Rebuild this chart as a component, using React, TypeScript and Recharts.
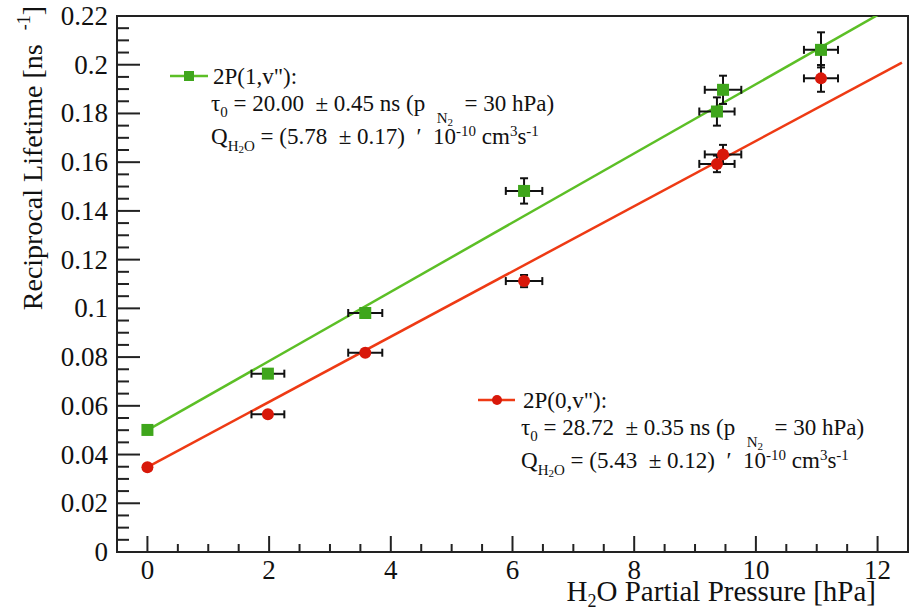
import React from "react";
import {
  ComposedChart,
  XAxis,
  YAxis,
  Scatter,
  Line,
  ErrorBar,
  ReferenceArea,
} from "recharts";

// measurements, H2O partial pressure in hPa
const pressure = [0, 1.98, 3.58, 6.19, 9.36, 9.46, 11.07];
const pressureErr = [0, 0.27, 0.28, 0.3, 0.29, 0.3, 0.28];

// 2P(1,v") reciprocal lifetime in ns^-1
const rate1 = [0.0501, 0.0732, 0.0981, 0.1482, 0.1808, 0.1897, 0.2061];
const rate1Err = [0, 0.001, 0.002, 0.0052, 0.0058, 0.0058, 0.0072];

// 2P(0,v") reciprocal lifetime in ns^-1
const rate0 = [0.0348, 0.0565, 0.0818, 0.1112, 0.1593, 0.1632, 0.1944];
const rate0Err = [0, 0.001, 0.0012, 0.0025, 0.0034, 0.0039, 0.0055];

// linear fits (intercept = 1/tau0)
const fit1 = { intercept: 0.05, slope: 0.0142 };
const fit0 = { intercept: 0.03482, slope: 0.01339 };
const fitRange = [0, 12.4];

const xMajor = [0, 2, 4, 6, 8, 10, 12];
const xTicks = Array.from({ length: 25 }, (_, i) => i * 0.5);
const yTicks = Array.from({ length: 45 }, (_, i) => +(i * 0.005).toFixed(3));

const FONT = '"Liberation Serif"';
const GREEN_LINE = "#5cbf26";
const GREEN_MARK = "#3fa61c";
const RED_LINE = "#ee3a14";
const RED_MARK = "#d8180a";
const AXIS = "#222";

const series1 = pressure.map((x, i) => ({ x, y: rate1[i], ex: pressureErr[i], ey: rate1Err[i] }));
const series0 = pressure.map((x, i) => ({ x, y: rate0[i], ex: pressureErr[i], ey: rate0Err[i] }));
const fitLine = (f: { intercept: number; slope: number }) =>
  fitRange.map((x) => ({ x, y: f.intercept + f.slope * x }));

const XTick = (props: any) => {
  const { x, y, payload } = props;
  const major = xMajor.includes(payload.value);
  return (
    <g>
      <line x1={x} x2={x} y1={y} y2={y - (major ? 16 : 8)} stroke={AXIS} strokeWidth={2} />
      {major && (
        <text x={x} y={y + 27} textAnchor="middle" style={{ fontFamily: FONT }} fontSize={27} fill="#111">
          {payload.value}
        </text>
      )}
    </g>
  );
};

const YTick = (props: any) => {
  const { x, y, payload } = props;
  const major = Math.round(payload.value * 1000) % 20 === 0;
  return (
    <g>
      <line x1={x} x2={x + (major ? 23 : 12)} y1={y} y2={y} stroke={AXIS} strokeWidth={2} />
      {major && (
        <text x={x - 9} y={y + 9} textAnchor="end" style={{ fontFamily: FONT }} fontSize={27} fill="#111">
          {String(Number(payload.value.toFixed(2)))}
        </text>
      )}
    </g>
  );
};

const YTitle = () => (
  <text
    transform="translate(42, 6) rotate(-90)"
    textAnchor="end"
    style={{ fontFamily: FONT }}
    fontSize={28}
    fill="#111"
  >
    Reciprocal Lifetime [ns
    <tspan dx={14} dy={-12} fontSize={18}>-1</tspan>
    <tspan dy={12}>]</tspan>
  </text>
);

const XTitle = () => (
  <text x={876} y={601} textAnchor="end" style={{ fontFamily: FONT }} fontSize={29} fill="#111">
    H<tspan dy={6} fontSize={18}>2</tspan>
    <tspan dy={-6}>O Partial Pressure [hPa]</tspan>
  </text>
);

const Square = (p: any) => (
  <rect x={p.cx - 6} y={p.cy - 6} width={12} height={12} fill={GREEN_MARK} />
);
const Dot = (p: any) => <circle cx={p.cx} cy={p.cy} r={6} fill={RED_MARK} />;

const Shift = ({ children, size, dy }: any) => (
  <span style={{ fontSize: size, position: "relative", top: dy }}>{children}</span>
);

const textStyle: React.CSSProperties = {
  position: "absolute",
  fontFamily: FONT,
  fontSize: 23,
  lineHeight: "23px",
  whiteSpace: "pre",
  color: "#111",
};

const LegendBlock = ({ left, top, title, tau, tauErr, q, qErr }: any) => (
  <>
    <div style={{ ...textStyle, left, top }}>{title}</div>
    <div style={{ ...textStyle, left: left - 2, top: top + 27 }}>
      {"τ"}
      <Shift size={15} dy={6}>0</Shift>
      {` = ${tau}  ± ${tauErr} ns (p  `}
      <Shift size={15} dy={12}>
        N<Shift size={11} dy={3}>2</Shift>
      </Shift>
      {"  = 30 hPa)"}
    </div>
    <div style={{ ...textStyle, left: left - 2, top: top + 60 }}>
      {"Q"}
      <Shift size={15} dy={7}>
        H<Shift size={11} dy={2}>2</Shift>O
      </Shift>
      {` = (${q}  ± ${qErr})  ′  10`}
      <Shift size={15} dy={-8}>-10</Shift>
      {" cm"}
      <Shift size={15} dy={-8}>3</Shift>
      {"s"}
      <Shift size={15} dy={-8}>-1</Shift>
    </div>
  </>
);

export default function App() {
  return (
    <div style={{ position: "absolute", left: 0, top: 0, width: 911, height: 614, background: "#fff", fontFamily: FONT }}>
      <ComposedChart width={911} height={614} margin={{ top: 16, right: 3, bottom: 0, left: 0 }}>
        <XAxis
          type="number"
          dataKey="x"
          domain={[-0.5, 12.5]}
          ticks={xTicks}
          interval={0}
          tick={<XTick />}
          tickLine={false}
          tickSize={0}
          tickMargin={0}
          height={62}
          axisLine={{ stroke: AXIS, strokeWidth: 2 }}
          label={<XTitle />}
        />
        <YAxis
          type="number"
          dataKey="y"
          domain={[0, 0.22]}
          allowDataOverflow
          ticks={yTicks}
          interval={0}
          tick={<YTick />}
          tickLine={false}
          tickSize={0}
          tickMargin={0}
          width={117}
          axisLine={{ stroke: AXIS, strokeWidth: 2 }}
          label={<YTitle />}
        />
        <ReferenceArea
          x1={-0.5}
          x2={12.5}
          y1={0}
          y2={0.22}
          fill="none"
          fillOpacity={0}
          stroke={AXIS}
          strokeWidth={2}
          strokeOpacity={1}
        />
        <Line
          data={fitLine(fit1)}
          dataKey="y"
          type="linear"
          stroke={GREEN_LINE}
          strokeWidth={2.5}
          dot={false}
          activeDot={false}
          isAnimationActive={false}
        />
        <Line
          data={fitLine(fit0)}
          dataKey="y"
          type="linear"
          stroke={RED_LINE}
          strokeWidth={2.5}
          dot={false}
          activeDot={false}
          isAnimationActive={false}
        />
        <Scatter data={series1} shape={<Square />} isAnimationActive={false}>
          <ErrorBar dataKey="ex" direction="x" width={4} stroke="#111" strokeWidth={2} />
          <ErrorBar dataKey="ey" direction="y" width={4} stroke="#111" strokeWidth={2} />
        </Scatter>
        <Scatter data={series0} shape={<Dot />} isAnimationActive={false}>
          <ErrorBar dataKey="ex" direction="x" width={4} stroke="#111" strokeWidth={2} />
          <ErrorBar dataKey="ey" direction="y" width={4} stroke="#111" strokeWidth={2} />
        </Scatter>
      </ComposedChart>

      <svg width={911} height={614} style={{ position: "absolute", left: 0, top: 0, pointerEvents: "none" }}>
        <line x1={170} x2={208} y1={76} y2={76} stroke={GREEN_LINE} strokeWidth={2.5} />
        <rect x={184} y={71} width={10} height={10} fill={GREEN_MARK} />
        <line x1={478} x2={515} y1={400} y2={400} stroke={RED_LINE} strokeWidth={2.5} />
        <circle cx={497} cy={400} r={5} fill={RED_MARK} />
      </svg>
      <LegendBlock left={213} top={65} title={'2P(1,v"):'} tau="20.00" tauErr="0.45" q="5.78" qErr="0.17" />
      <LegendBlock left={523} top={389} title={'2P(0,v"):'} tau="28.72" tauErr="0.35" q="5.43" qErr="0.12" />
    </div>
  );
}
